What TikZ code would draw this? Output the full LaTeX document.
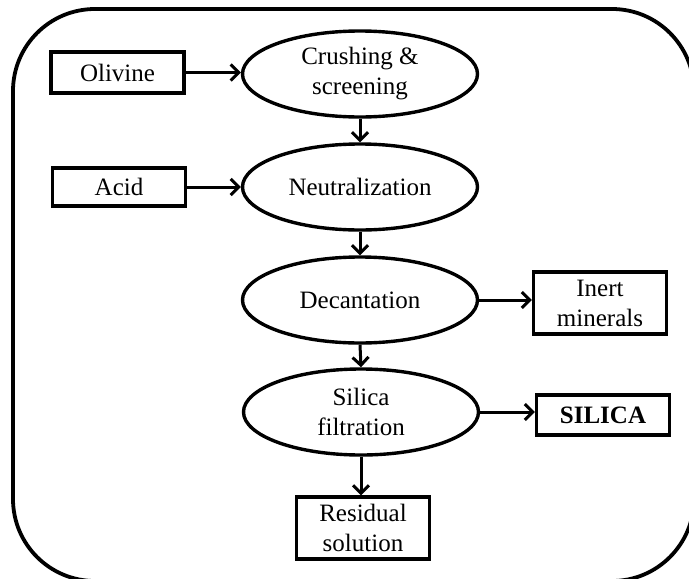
\documentclass[tikz,border=0pt]{standalone}
\usepackage{fontspec}
\setmainfont{Liberation Serif}
\usetikzlibrary{shapes.geometric,arrows.meta}
\begin{document}
\begin{tikzpicture}[x=1pt,y=-1pt,
  every node/.style={font=\fontsize{25}{30}\selectfont, align=center, inner sep=0pt},
  proc/.style={ellipse, draw, line width=3.4pt, minimum width=235pt, minimum height=86pt},
  ibox/.style={rectangle, draw, line width=3.2pt, minimum width=133pt},
  flow/.style={draw, line width=3pt, -{Straight Barb[length=8pt,width=16pt,line width=3pt]}}
]
\clip (0,0) rectangle (689,579);
\draw[line width=3.8pt, rounded corners=82pt] (13,9) rectangle (694,581);

\node[ibox, minimum height=41pt] (olivine) at (117.5,72.5) {Olivine};
\node[proc] (crush) at (360,74) {Crushing \&\\screening};
\node[ibox, minimum height=38pt] (acid) at (119,187) {Acid};
\node[proc] (neut) at (360,187) {Neutralization};
\node[proc] (dec) at (360,300) {Decantation};
\node[ibox, minimum height=62pt] (inert) at (600,303) {Inert\\minerals};
\node[proc] (silf) at (361,412) {Silica\\filtration};
\node[ibox, minimum height=40pt, font=\fontsize{25}{30}\selectfont\bfseries] (silica) at (603,415) {SILICA};
\node[ibox, minimum height=62pt] (resid) at (363,528) {Residual\\solution};

\draw[flow] (olivine.east) -- (crush.west |- olivine.east);
\draw[flow] (acid.east) -- (neut.west |- acid.east);
\draw[flow] (crush.south) -- (neut.north);
\draw[flow] (neut.south) -- (dec.north);
\draw[flow] (dec.east) -- (inert.west |- dec.east);
\draw[flow] (dec.south) -- (silf.north);
\draw[flow] (silf.east) -- (silica.west |- silf.east);
\draw[flow] (silf.south) -- (resid.north -| silf.south);
\end{tikzpicture}
\end{document}
